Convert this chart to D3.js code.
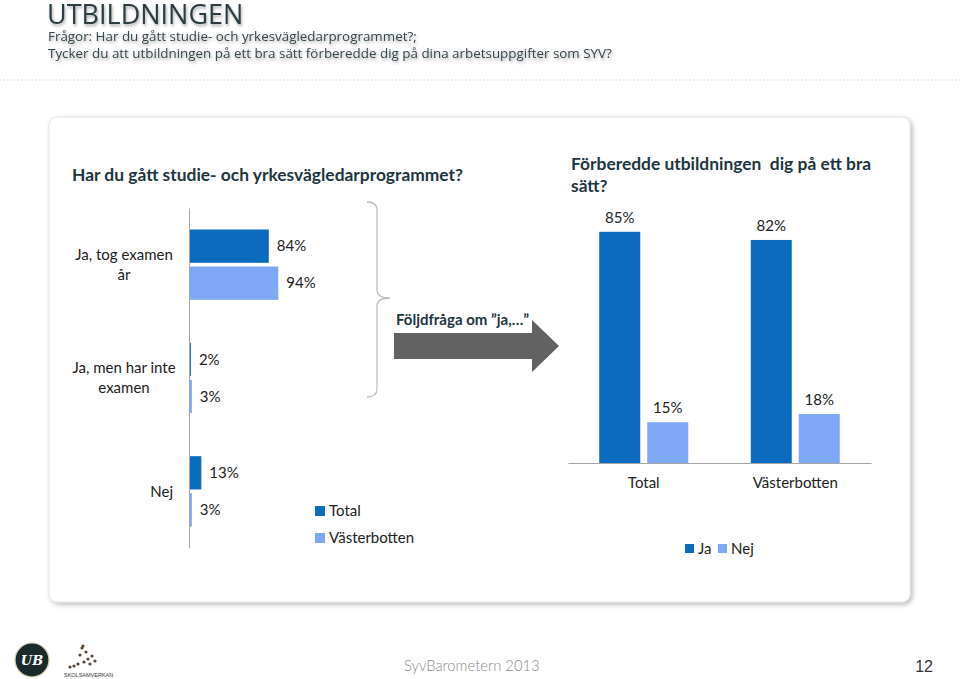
<!DOCTYPE html>
<html>
<head>
<meta charset="utf-8">
<script src="https://cdn.jsdelivr.net/npm/d3@7"></script>
<style>
  html, body { margin: 0; padding: 0; background: #ffffff; }
  svg { display: block; }
</style>
</head>
<body>
<svg id="chart" width="960" height="679"></svg>
<script>
// ---------- DATA ----------
const pageTitle = "UTBILDNINGEN";
const pageSubtitle = [
  "Frågor: Har du gått studie- och yrkesvägledarprogrammet?;",
  "Tycker du att utbildningen på ett bra sätt förberedde dig på dina arbetsuppgifter som SYV?"
];

const leftTitle = "Har du gått studie- och yrkesvägledarprogrammet?";
const leftCategories = ["Ja, tog examen år", "Ja, men har inte examen", "Nej"];
const leftCategoryLines = [["Ja, tog examen", "år"], ["Ja, men har inte", "examen"], ["Nej"]];
const leftSeries = ["Total", "Västerbotten"];
const leftTotal = [84, 2, 13];
const leftVasterbotten = [94, 3, 3];

const arrowLabel = "Följdfråga om \u201dja,\u2026\u201d";

const rightTitleLines = ["Förberedde utbildningen  dig på ett bra", "sätt?"];
const rightCategories = ["Total", "Västerbotten"];
const rightSeries = ["Ja", "Nej"];
const rightJa = [85, 82];
const rightNej = [15, 18];

const footerText = "SyvBarometern 2013";
const pageNumber = "12";

// ---------- STYLE ----------
const darkBlue = "#0b6cbf";
const lightBlue = "#7ea8f6";
const seriesColors = [darkBlue, lightBlue];
const chartFont = "Lato, Carlito, 'Open Sans', sans-serif";
const labelSize = 15;

const svg = d3.select("#chart");
const defs = svg.append("defs");

const cardShadow = defs.append("filter").attr("id", "cardShadow")
  .attr("x", "-5%").attr("y", "-5%").attr("width", "110%").attr("height", "110%");
cardShadow.append("feDropShadow").attr("dx", 2).attr("dy", 2)
  .attr("stdDeviation", 2.5).attr("flood-color", "#000").attr("flood-opacity", 0.28);

const textShadow = defs.append("filter").attr("id", "textShadow")
  .attr("x", "-10%").attr("y", "-30%").attr("width", "120%").attr("height", "170%");
textShadow.append("feDropShadow").attr("dx", 1).attr("dy", 2)
  .attr("stdDeviation", 1.6).attr("flood-color", "#000").attr("flood-opacity", 0.35);

// ---------- HEADER ----------
svg.append("text")
  .attr("x", 47).attr("y", 24)
  .attr("font-family", "'Open Sans', 'Noto Sans', sans-serif")
  .attr("font-size", 27)
  .attr("fill", "#2c3d43")
  .attr("filter", "url(#textShadow)")
  .text(pageTitle);

svg.selectAll("text.sub").data(pageSubtitle).join("text")
  .attr("class", "sub")
  .attr("x", 48)
  .attr("y", (d, i) => 41 + i * 17)
  .attr("font-family", "'Open Sans', 'Noto Sans', sans-serif")
  .attr("font-size", 13.4)
  .attr("fill", "#34464c")
  .attr("filter", "url(#textShadow)")
  .text(d => d);

svg.append("line")
  .attr("x1", 0).attr("x2", 960).attr("y1", 80).attr("y2", 80)
  .attr("stroke", "#d2d2d2").attr("stroke-width", 1)
  .attr("stroke-dasharray", "1.5,2");

// ---------- CARD ----------
svg.append("rect")
  .attr("x", 49).attr("y", 117).attr("width", 861).attr("height", 485)
  .attr("rx", 8).attr("ry", 8)
  .attr("fill", "#ffffff")
  .attr("stroke", "#e4e4e4")
  .attr("filter", "url(#cardShadow)");

// ---------- LEFT CHART (horizontal bars) ----------
svg.append("text")
  .attr("x", 72).attr("y", 181)
  .attr("font-family", chartFont).attr("font-weight", "bold")
  .attr("font-size", 17.4).attr("fill", "#1e3640")
  .text(leftTitle);

const lx = d3.scaleLinear().domain([0, 100]).range([189, 284]);
const ly = d3.scaleBand().domain(leftCategories).range([208, 548]);
const lyInner = d3.scaleBand().domain(leftSeries).range([21.5, 91.8]).paddingInner(0.1);

const leftRows = leftCategories.map((c, i) => ({
  cat: c, lines: leftCategoryLines[i],
  values: [leftTotal[i], leftVasterbotten[i]]
}));

const lg = svg.append("g");
const rowG = lg.selectAll("g.row").data(leftRows).join("g")
  .attr("class", "row")
  .attr("transform", d => `translate(0,${ly(d.cat)})`);

rowG.selectAll("rect").data(d => d.values.map((v, j) => ({ s: leftSeries[j], v, j })))
  .join("rect")
  .attr("x", lx(0))
  .attr("y", d => lyInner(d.s))
  .attr("width", d => lx(d.v) - lx(0))
  .attr("height", lyInner.bandwidth())
  .attr("fill", d => seriesColors[d.j]);

rowG.selectAll("text.val").data(d => d.values.map((v, j) => ({ s: leftSeries[j], v, j })))
  .join("text")
  .attr("class", "val")
  .attr("x", d => lx(d.v) + 8)
  .attr("y", d => lyInner(d.s) + lyInner.bandwidth() / 2)
  .attr("dy", "0.35em")
  .attr("font-family", chartFont).attr("font-size", labelSize).attr("fill", "#222")
  .text(d => d.v + "%");

// category labels
rowG.each(function(d) {
  const g = d3.select(this);
  const mid = ly.bandwidth() / 2;
  const n = d.lines.length;
  const multi = n > 1;
  const t = g.append("text")
    .attr("font-family", chartFont).attr("font-size", labelSize).attr("fill", "#222")
    .attr("text-anchor", multi ? "middle" : "end");
  d.lines.forEach((line, k) => {
    t.append("tspan")
      .attr("x", multi ? 124 : 173)
      .attr("y", mid + (k - (n - 1) / 2) * 20)
      .attr("dy", "0.35em")
      .text(line);
  });
});

// left axis
lg.append("g")
  .attr("transform", `translate(${lx(0)},0)`)
  .call(d3.axisLeft(ly).tickSize(0).tickSizeOuter(0).tickFormat(""))
  .call(g => g.select(".domain").attr("stroke", "#a6a6a6"));

// legend (left)
const lLeg = svg.append("g").attr("transform", "translate(315,506)");
lLeg.selectAll("rect").data(leftSeries).join("rect")
  .attr("x", 0).attr("y", (d, i) => i * 27)
  .attr("width", 10).attr("height", 10)
  .attr("fill", (d, i) => seriesColors[i]);
lLeg.selectAll("text").data(leftSeries).join("text")
  .attr("x", 14).attr("y", (d, i) => i * 27 + 5).attr("dy", "0.35em")
  .attr("font-family", chartFont).attr("font-size", labelSize).attr("fill", "#222")
  .text(d => d);

// ---------- BRACE ----------
svg.append("path")
  .attr("d", "M367,202 Q377,202 377,210 L377,290 Q377,298 390,298 Q377,298 377,306 L377,389 Q377,397 367,397")
  .attr("fill", "none").attr("stroke", "#bdbdbd").attr("stroke-width", 1.3);

// ---------- ARROW ----------
const arrowG = svg.append("g");
arrowG.append("path")
  .attr("d", "M394,333 L532,333 L532,320 L559,346 L532,372 L532,359 L394,359 Z")
  .attr("fill", "#626262");
const arrowBg = arrowG.append("rect").attr("fill", "#fff");
const arrowText = arrowG.append("text")
  .attr("x", 396).attr("y", 325)
  .attr("font-family", chartFont).attr("font-weight", "bold")
  .attr("font-size", 15).attr("fill", "#1e3640")
  .text(arrowLabel);
const bb = arrowText.node().getBBox();
arrowBg.attr("x", bb.x - 2).attr("y", bb.y).attr("width", bb.width + 4).attr("height", bb.height - 1);

// ---------- RIGHT CHART (vertical bars) ----------
svg.selectAll("text.rtitle").data(rightTitleLines).join("text")
  .attr("class", "rtitle")
  .attr("x", 571).attr("y", (d, i) => 170 + i * 22)
  .attr("font-family", chartFont).attr("font-weight", "bold")
  .attr("font-size", 17.4).attr("fill", "#1e3640")
  .style("white-space", "pre")
  .text(d => d);

const rx = d3.scaleBand().domain(rightCategories).range([568, 871]);
const rxInner = d3.scaleBand().domain(rightSeries).range([31.25, 120.25]).paddingInner(0.146);
const ry = d3.scaleLinear().domain([0, 100]).range([463, 191]);

const rightCols = rightCategories.map((c, i) => ({ cat: c, values: [rightJa[i], rightNej[i]] }));
const rg = svg.append("g");
const colG = rg.selectAll("g.col").data(rightCols).join("g")
  .attr("class", "col")
  .attr("transform", d => `translate(${rx(d.cat)},0)`);

colG.selectAll("rect").data(d => d.values.map((v, j) => ({ s: rightSeries[j], v, j })))
  .join("rect")
  .attr("x", d => rxInner(d.s))
  .attr("y", d => ry(d.v))
  .attr("width", rxInner.bandwidth())
  .attr("height", d => ry(0) - ry(d.v))
  .attr("fill", d => seriesColors[d.j]);

colG.selectAll("text.val").data(d => d.values.map((v, j) => ({ s: rightSeries[j], v, j })))
  .join("text")
  .attr("class", "val")
  .attr("x", d => rxInner(d.s) + rxInner.bandwidth() / 2)
  .attr("y", d => ry(d.v) - 9)
  .attr("text-anchor", "middle")
  .attr("font-family", chartFont).attr("font-size", labelSize).attr("fill", "#222")
  .text(d => d.v + "%");

rg.append("g")
  .attr("transform", `translate(0,${ry(0)})`)
  .call(d3.axisBottom(rx).tickSize(0).tickSizeOuter(0).tickPadding(14))
  .call(g => g.select(".domain").attr("stroke", "#a6a6a6"))
  .call(g => g.selectAll("text")
    .attr("font-family", chartFont).attr("font-size", labelSize).attr("fill", "#222"));

// legend (right)
const rLeg = svg.append("g").attr("transform", "translate(685,544)");
const rLegItems = rLeg.selectAll("g").data(rightSeries).join("g")
  .attr("transform", (d, i) => `translate(${i * 33},0)`);
rLegItems.append("rect").attr("width", 9).attr("height", 9)
  .attr("fill", (d, i) => seriesColors[i]);
rLegItems.append("text").attr("x", 13).attr("y", 4.5).attr("dy", "0.35em")
  .attr("font-family", chartFont).attr("font-size", labelSize).attr("fill", "#222")
  .text(d => d);

// ---------- FOOTER ----------
svg.append("circle").attr("cx", 32).attr("cy", 660).attr("r", 17)
  .attr("fill", "#1b2a2a").attr("stroke", "#d9d2b8").attr("stroke-width", 1.2);
svg.append("text").attr("x", 32).attr("y", 665).attr("text-anchor", "middle")
  .attr("font-family", "'DejaVu Serif', serif").attr("font-style", "italic")
  .attr("font-weight", "bold").attr("font-size", 13).attr("fill", "#fff")
  .text("UB");
// small skolsamverkan mark
const dots = [[82,648],[86,652],[80,655],[88,659],[84,662],[78,664],[90,664],[74,666],[70,667],[92,656],[95,661],[83,646]];
svg.selectAll("circle.dot").data(dots).join("circle").attr("class", "dot")
  .attr("cx", d => d[0]).attr("cy", d => d[1]).attr("r", 1.6).attr("fill", "#5b4636");
svg.append("text").attr("x", 64).attr("y", 677)
  .attr("font-family", "'Liberation Sans', sans-serif").attr("font-size", 5.5)
  .attr("fill", "#333").text("SKOLSAMVERKAN");

svg.append("text").attr("x", 404).attr("y", 671)
  .attr("font-family", chartFont).attr("font-weight", 300).attr("font-size", 14.8)
  .attr("fill", "#8c8c8c").text(footerText);
svg.append("text").attr("x", 933).attr("y", 672).attr("text-anchor", "end")
  .attr("font-family", "'Liberation Sans', sans-serif").attr("font-size", 16)
  .attr("fill", "#333").text(pageNumber);
</script>
</body>
</html>
